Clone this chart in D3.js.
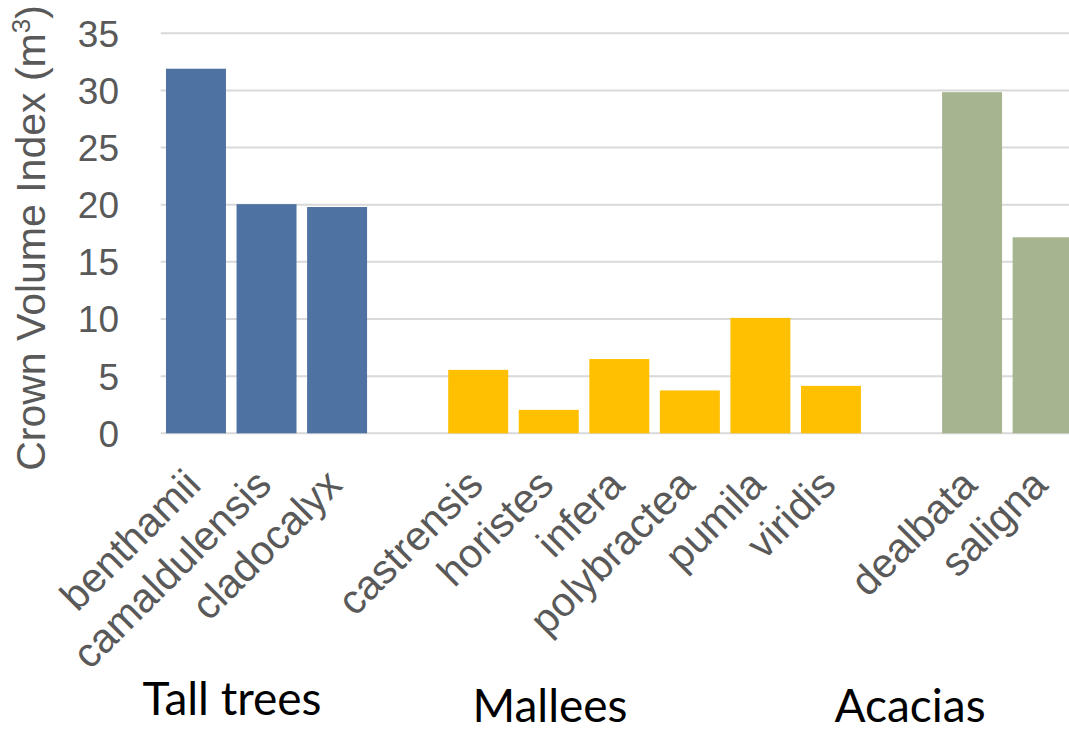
<!DOCTYPE html>
<html>
<head>
<meta charset="utf-8">
<script src="https://cdn.jsdelivr.net/npm/d3@7"></script>
<style>
  html, body { margin: 0; padding: 0; background: #fff; }
  svg { display: block; }
</style>
</head>
<body>
<svg id="chart" width="1069" height="731"></svg>
<script>
// Crown volume index per species, grouped by plant form
const groups = ["Tall trees", "Mallees", "Acacias"];
const tallTrees = ["benthamii", "camaldulensis", "cladocalyx"];
const tallValues = [31.9, 20.05, 19.8];
const mallees = ["castrensis", "horistes", "infera", "polybractea", "pumila", "viridis"];
const malleeValues = [5.55, 2.05, 6.5, 3.75, 10.1, 4.15];
const acacias = ["dealbata", "saligna"];
const acaciaValues = [29.85, 17.15];
const groupColors = ["#4e73a2", "#fec000", "#a6b48f"];
const yTicks = [0, 5, 10, 15, 20, 25, 30, 35];

const groupSpecies = [tallTrees, mallees, acacias];
const groupValues = [tallValues, malleeValues, acaciaValues];

// Flatten into bar records, with an empty slot between groups
const bars = [];
const domain = [];
groupSpecies.forEach((list, gi) => {
  if (gi > 0) domain.push("__gap" + gi);
  list.forEach((name, i) => {
    domain.push(name);
    bars.push({ name, value: groupValues[gi][i], group: gi });
  });
});

const svg = d3.select("#chart");
const grayText = "#595959";
const labelFont = "'Liberation Sans', Arial, sans-serif";

const x = d3.scaleBand()
  .domain(domain)
  .range([160.7, 1077.9])
  .paddingInner(0.15)
  .paddingOuter(0.075);

const y = d3.scaleLinear().domain([0, 35]).range([433.3, 33.3]);

// Horizontal gridlines
svg.append("g")
  .selectAll("line")
  .data(yTicks)
  .join("line")
  .attr("x1", x.range()[0])
  .attr("x2", x.range()[1])
  .attr("y1", d => y(d))
  .attr("y2", d => y(d))
  .attr("stroke", "#d9d9d9")
  .attr("stroke-width", 2);

// Y axis tick labels
const yAxis = d3.axisLeft(y).tickValues(yTicks).tickSize(0).tickPadding(0);
const yg = svg.append("g")
  .attr("transform", "translate(119,0)")
  .call(yAxis);
yg.select(".domain").remove();
yg.selectAll("text")
  .attr("dy", "0.35em")
  .attr("fill", grayText)
  .style("font-family", labelFont)
  .style("font-size", "37px");

// Bars
svg.append("g")
  .selectAll("rect")
  .data(bars)
  .join("rect")
  .attr("x", d => x(d.name))
  .attr("width", x.bandwidth())
  .attr("y", d => y(d.value))
  .attr("height", d => y(0) - y(d.value))
  .attr("fill", d => groupColors[d.group]);

// Rotated species labels
svg.append("g")
  .selectAll("text")
  .data(bars)
  .join("text")
  .attr("transform", d => `translate(${x(d.name) + x.bandwidth() / 2 + 7},487) rotate(-45)`)
  .attr("text-anchor", "end")
  .attr("fill", grayText)
  .style("font-family", labelFont)
  .style("font-size", "41px")
  .text(d => d.name);

// Y axis title
const title = svg.append("text")
  .attr("transform", "translate(45,238) rotate(-90)")
  .attr("text-anchor", "middle")
  .attr("fill", grayText)
  .style("font-family", labelFont)
  .style("font-size", "41px");
title.append("tspan").text("Crown Volume Index (m");
title.append("tspan").attr("baseline-shift", "super").style("font-size", "26px").text("3");
title.append("tspan").text(")");

// Group labels under each block of bars
const groupLabelPos = [
  { cx: 232, by: 715 },
  { cx: 550, by: 722 },
  { cx: 910, by: 722 }
];
svg.append("g")
  .selectAll("text")
  .data(groups)
  .join("text")
  .attr("x", (d, i) => groupLabelPos[i].cx)
  .attr("y", (d, i) => groupLabelPos[i].by)
  .attr("text-anchor", "middle")
  .attr("fill", "#000")
  .style("font-family", "Lato, 'Open Sans', sans-serif")
  .style("font-size", "46px")
  .text(d => d);
</script>
</body>
</html>
